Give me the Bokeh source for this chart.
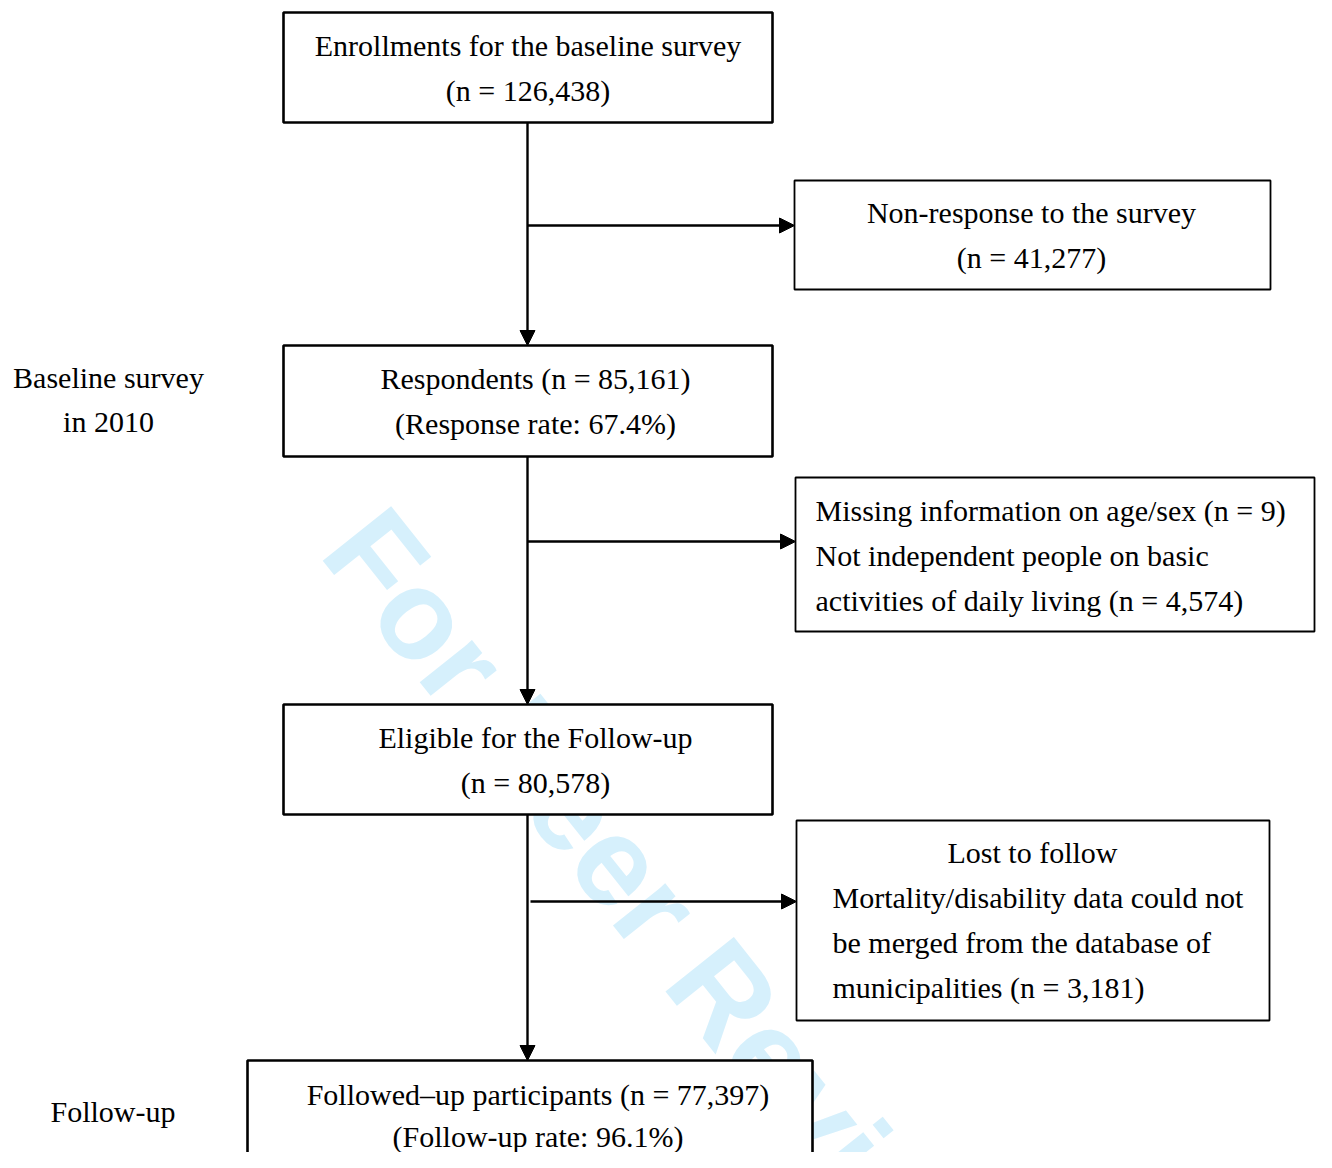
from bokeh.plotting import figure
from bokeh.models import Range1d, Arrow, NormalHead
from bokeh.core.properties import value
from bokeh.embed import file_html
from bokeh.resources import INLINE

H = 1168  # reference height; data y = H - reference_y
FS = 30   # font size in px
BASE_FIX = 0.34 * FS  # empirical baseline correction

# ---- boxes (reference pixel coordinates) ----
box_left = [283, 794, 283, 795, 283, 796, 247]
box_right = [772, 1270, 772, 1314, 772, 1269, 812]
box_top = [12, 180, 345, 477, 704, 820, 1060]
box_bottom = [122, 289, 456, 631, 814, 1020, 1220]
box_lw = [2.6, 1.8, 2.6, 1.8, 2.6, 1.8, 2.6]

# ---- text lines ----
centered_text = [
    "Enrollments for the baseline survey", "(n = 126,438)",
    "Non-response to the survey", "(n = 41,277)",
    "Respondents (n = 85,161)", "(Response rate: 67.4%)",
    "Eligible for the Follow-up", "(n = 80,578)",
    "Lost to follow",
    "Followed\u2013up participants (n = 77,397)", "(Follow-up rate: 96.1%)",
    "Baseline survey", "in 2010",
    "Follow-up",
]
centered_x = [527.5, 527.5, 1031, 1031, 535, 535, 535, 535, 1032, 537.5, 537.5, 108, 108, 112.5]
centered_y = [55, 100, 222, 267, 388, 433, 747, 792, 862, 1104, 1146, 387, 431, 1121]

left_text = [
    "Missing information on age/sex (n = 9)",
    "Not independent people on basic",
    "activities of daily living (n = 4,574)",
    "Mortality/disability data could not",
    "be merged from the database of",
    "municipalities (n = 3,181)",
]
left_x = [815, 815, 815, 832, 832, 832]
left_y = [520, 565, 610, 907, 952, 997]

# ---- connectors ----
vline_x = [527, 527, 527]
vline_y0 = [122, 456, 814]
vline_y1 = [345, 704, 1060]
hline_y = [225, 541, 901]
hline_x0 = [527, 527, 530]
hline_x1 = [794, 795, 796]

# ---- watermark ----
wm_text = ["For Peer Review"]
wm_x = [351.5]
wm_y = [526.0]

p = figure(width=1316, height=1152, output_backend="svg", toolbar_location=None,
           x_range=Range1d(0, 1316), y_range=Range1d(H - 1152, H),
           min_border=0, outline_line_color=None, background_fill_color="white",
           border_fill_color="white")
p.xaxis.visible = False
p.yaxis.visible = False
p.grid.visible = False

# watermark
p.text(x=wm_x, y=[H - v for v in wm_y], text=wm_text, angle=-51.5, angle_units="deg",
       text_font=value("Liberation Sans"), text_font_style="bold", text_font_size="127px",
       text_color="#d6f0fc", text_align="left", text_baseline="alphabetic")

# boxes
p.quad(left=box_left, right=box_right, top=[H - v for v in box_top],
       bottom=[H - v for v in box_bottom], fill_color="white", line_color="black",
       line_width=box_lw)

# lines & arrows
head_kw = dict(size=15, fill_color="black", line_color="black", line_width=1)
for x, y0, y1 in zip(vline_x, vline_y0, vline_y1):
    p.add_layout(Arrow(end=NormalHead(**head_kw), x_start=x, y_start=H - y0, x_end=x, y_end=H - y1,
                       line_color="black", line_width=2.4))
for y, x0, x1 in zip(hline_y, hline_x0, hline_x1):
    p.add_layout(Arrow(end=NormalHead(**head_kw), x_start=x0, y_start=H - y, x_end=x1, y_end=H - y,
                       line_color="black", line_width=2.4))

# texts
p.text(x=centered_x, y=[H - v + BASE_FIX for v in centered_y], text=centered_text,
       text_font=value("Liberation Serif"), text_font_size=f"{FS}px", text_color="black",
       text_align="center", text_baseline="alphabetic")
p.text(x=left_x, y=[H - v + BASE_FIX for v in left_y], text=left_text,
       text_font=value("Liberation Serif"), text_font_size=f"{FS}px", text_color="black",
       text_align="left", text_baseline="alphabetic")

open("out.html", "w").write(file_html(p, INLINE))
